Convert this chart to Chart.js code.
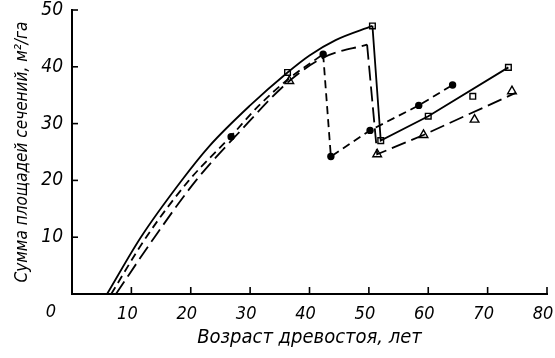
<!DOCTYPE html>
<html><head><meta charset="utf-8">
<script src="https://cdn.jsdelivr.net/npm/chart.js@4.4.1/dist/chart.umd.min.js"></script>
<style>html,body{margin:0;padding:0;background:#fff;}</style>
</head><body>
<canvas id="c" width="555" height="358"></canvas>
<script>
// ---- data ----
const xTickValues = [10, 20, 30, 40, 50, 60, 70, 80];
const yTickValues = [10, 20, 30, 40, 50];
const originLabel = "0";
const xTitle = "Возраст древостоя, лет";
const yTitle = "Сумма площадей сечений, м²/га";

// solid curve (squares) before thinning
const solidCurveAge   = [5.9, 11.6, 18.4, 23.1, 30.0, 36.3, 40.0, 44.4, 50.6];
const solidCurveBasal = [0, 10, 19.9, 26.0, 33.2, 39.0, 42.0, 44.7, 47.2];
// solid: drop and recovery line
const solidAfterAge   = [50.6, 52.0, 60.0, 73.5];
const solidAfterBasal = [47.2, 27.0, 31.3, 39.9];
// square markers
const squareAge   = [36.3, 50.6, 52.0, 60.0, 67.5, 73.5];
const squareBasal = [39.0, 47.2, 27.0, 31.3, 34.8, 39.9];

// short-dashed curve (dots)
const dotCurveAge   = [6.6, 12.5, 19.7, 26.8, 31.5, 36.5, 42.3];
const dotCurveBasal = [0, 10, 20, 27.8, 33.2, 37.9, 42.2];
const dotAfterAge   = [42.3, 43.6, 50.2, 58.4, 64.1];
const dotAfterBasal = [42.2, 24.2, 28.8, 33.2, 36.8];
const dotAge   = [26.8, 42.3, 43.6, 50.2, 58.4, 64.1];
const dotBasal = [27.7, 42.2, 24.2, 28.8, 33.2, 36.8];

// long-dashed curve (triangles)
const triCurveAge   = [7.4, 13.9, 20.9, 28.0, 36.6, 42.5, 49.7];
const triCurveBasal = [0, 10, 20, 28.3, 37.5, 41.7, 43.9];
const triAfterAge   = [49.7, 51.4, 59.2, 74.7];
const triAfterBasal = [43.9, 24.6, 28.0, 35.4];
const triAge   = [36.6, 51.4, 59.2, 67.8, 74.1];
const triBasal = [37.5, 24.6, 28.0, 30.7, 35.7];

// ---- helpers ----
const pts = (xs, ys) => xs.map((x, i) => ({x, y: ys[i]}));
const FONT = "'Liberation Sans Narrow', 'DejaVu Sans Condensed', 'Noto Sans', sans-serif";
const SHORT = [8, 5];
const LONG = [15, 6];

const lineDs = (data, dash, curved) => ({
  data, showLine: true, borderColor: '#000', borderWidth: 1.8,
  borderDash: dash, pointRadius: 0, fill: false,
  tension: 0, cubicInterpolationMode: curved ? 'monotone' : 'default'
});
const markDs = (data, style, r, filled) => ({
  data, showLine: false, pointStyle: style, pointRadius: r,
  pointBackgroundColor: filled ? '#000' : '#fff', pointBorderColor: '#000',
  pointBorderWidth: 1.4
});

const inwardTicks = {
  id: 'inwardTicks',
  afterDraw(chart) {
    const {ctx, scales: {x, y}} = chart;
    ctx.save();
    ctx.strokeStyle = '#000';
    ctx.lineWidth = 1.6;
    xTickValues.forEach(v => {
      const px = x.getPixelForValue(v);
      ctx.beginPath(); ctx.moveTo(px, y.bottom); ctx.lineTo(px, y.bottom - 7); ctx.stroke();
    });
    yTickValues.forEach(v => {
      const py = y.getPixelForValue(v);
      ctx.beginPath(); ctx.moveTo(x.left, py); ctx.lineTo(x.left + 6, py); ctx.stroke();
    });
    ctx.fillStyle = '#000';
    ctx.font = "italic 18px " + FONT;
    ctx.textAlign = 'center';
    ctx.textBaseline = 'middle';
    ctx.fillText(originLabel, x.getPixelForValue(0) - 21, y.getPixelForValue(0) + 18);
    ctx.restore();
  }
};

new Chart(document.getElementById('c'), {
  type: 'scatter',
  data: {
    datasets: [
      lineDs(pts(solidCurveAge, solidCurveBasal), [], true),
      lineDs(pts(solidAfterAge, solidAfterBasal), [], false),
      lineDs(pts(dotCurveAge, dotCurveBasal), SHORT, true),
      lineDs(pts(dotAfterAge, dotAfterBasal), SHORT, false),
      lineDs(pts(triCurveAge, triCurveBasal), LONG, true),
      lineDs(pts(triAfterAge, triAfterBasal), LONG, false),
      markDs(pts(dotAge, dotBasal), 'circle', 3, true),
      markDs(pts(squareAge, squareBasal), 'rect', 4, false),
      markDs(pts(triAge, triBasal), 'triangle', 5, false)
    ]
  },
  options: {
    responsive: false,
    devicePixelRatio: 1,
    animation: false,
    layout: {padding: {top: 10, right: 8, left: 0, bottom: 0}},
    plugins: {legend: {display: false}, tooltip: {enabled: false}},
    scales: {
      x: {
        type: 'linear', min: 0, max: 80,
        grid: {display: false, drawTicks: false},
        border: {display: true, color: '#000', width: 2},
        ticks: {
          stepSize: 10, padding: 10, color: '#000', labelOffset: -4,
          font: {family: FONT, size: 18, style: 'italic'},
          callback: v => (v === 0 ? '' : String(v))
        },
        title: {display: true, text: xTitle, color: '#000',
          font: {family: FONT, size: 20, style: 'italic'}, padding: {top: 0, bottom: 8}},
        afterFit: s => { s.height = 64; s.paddingLeft = 0; s.paddingRight = 0; }
      },
      y: {
        type: 'linear', min: 0, max: 50,
        grid: {display: false, drawTicks: false},
        border: {display: true, color: '#000', width: 2},
        ticks: {
          stepSize: 10, padding: 9, color: '#000',
          font: {family: FONT, size: 19, style: 'italic'},
          callback: v => (v === 0 ? '' : String(v))
        },
        title: {display: true, text: yTitle, color: '#000',
          font: {family: FONT, size: 17, style: 'italic'}, padding: {top: 12, bottom: 0}},
        afterFit: s => { s.width = 72; s.paddingTop = 0; s.paddingBottom = 0; }
      }
    }
  },
  plugins: [inwardTicks]
});
</script>
</body></html>
